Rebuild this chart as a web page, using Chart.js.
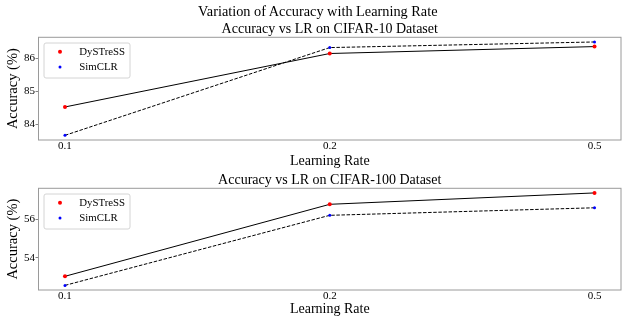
<!DOCTYPE html>
<html>
<head>
<meta charset="utf-8">
<script src="https://cdn.jsdelivr.net/npm/chart.js@4.4.0/dist/chart.umd.min.js"></script>
<style>
  html, body { margin: 0; padding: 0; background: #fff; }
  body { width: 625px; height: 322px; position: relative; overflow: hidden; font-family: "Liberation Serif", serif; }
  .plot { position: absolute; left: 0; }
  #suptitle { position: absolute; left: 0; top: 2px; width: 635.6px; text-align: center;
              font-size: 14.3px; line-height: 18px; color: #000; white-space: nowrap; }
</style>
</head>
<body>
<canvas id="cifar10" class="plot" width="625" height="175" style="top:0;width:625px;height:175px"></canvas>
<canvas id="cifar100" class="plot" width="625" height="157" style="top:165px;width:625px;height:157px"></canvas>
<div id="suptitle">Variation of Accuracy with Learning Rate</div>
<script>
// Learning rates on the x axis (evenly spaced categories)
const learningRates = ['0.1', '0.2', '0.5'];
const seriesNames = ['DySTreSS', 'SimCLR'];

// CIFAR-10 accuracy (%)
const cifar10DySTreSS = [84.52, 86.14, 86.35];
const cifar10SimCLR = [83.66, 86.32, 86.49];
const cifar10Ticks = [84, 85, 86];

// CIFAR-100 accuracy (%)
const cifar100DySTreSS = [53.05, 56.78, 57.37];
const cifar100SimCLR = [52.58, 56.21, 56.60];
const cifar100Ticks = [54, 56];

const SERIF = '"Liberation Serif", "Times New Roman", serif';

// Axes frame plus an inset legend in the upper-left corner
const frameAndLegend = {
  id: 'frameAndLegend',
  afterDatasetsDraw(chart) {
    const { ctx, chartArea: a } = chart;
    ctx.save();
    ctx.strokeStyle = '#9a9a9a';
    ctx.lineWidth = 1;
    ctx.strokeRect(a.left, a.top, a.right - a.left, a.bottom - a.top);

    const x0 = a.left + 5.5, y0 = a.top + 5.7, w = 86, h = 35;
    ctx.fillStyle = 'rgba(255,255,255,0.8)';
    ctx.strokeStyle = '#d4d4d4';
    ctx.beginPath();
    ctx.roundRect(x0, y0, w, h, 2);
    ctx.fill();
    ctx.stroke();

    ctx.font = '10.8px ' + SERIF;
    ctx.textBaseline = 'middle';
    ctx.textAlign = 'left';
    chart.data.datasets.forEach((ds, i) => {
      const y = y0 + 8.7 + i * 15.3;
      ctx.fillStyle = ds.pointBackgroundColor;
      ctx.beginPath();
      ctx.arc(x0 + 16, y, ds.pointRadius, 0, Math.PI * 2);
      ctx.fill();
      ctx.fillStyle = '#000';
      ctx.fillText(ds.label, x0 + 35.3, y);
    });
    ctx.restore();
  }
};

function yRange(a, b) {
  const all = a.concat(b);
  const lo = Math.min(...all), hi = Math.max(...all);
  const pad = (hi - lo) * 0.05;
  return { min: lo - pad, max: hi + pad };
}

function makeChart(id, title, dystress, simclr, yTicks, geom) {
  const yr = yRange(dystress, simclr);
  const xPad = (learningRates.length - 1) * 0.05;
  const toPoints = arr => arr.map((v, i) => ({ x: i, y: v }));
  return new Chart(document.getElementById(id), {
    type: 'line',
    data: {
      datasets: [
        {
          label: seriesNames[0],
          data: toPoints(dystress),
          borderColor: '#000',
          borderWidth: 1,
          pointRadius: 2,
          pointBackgroundColor: '#ff0000',
          pointBorderWidth: 0,
          tension: 0
        },
        {
          label: seriesNames[1],
          data: toPoints(simclr),
          borderColor: '#000',
          borderWidth: 1,
          borderDash: [3.5, 1.6],
          pointRadius: 1.5,
          pointBackgroundColor: '#0000ff',
          pointBorderWidth: 0,
          tension: 0
        }
      ]
    },
    options: {
      responsive: false,
      animation: false,
      devicePixelRatio: 1,
      events: [],
      layout: { padding: { left: 0, right: 1.5, top: 0, bottom: 0 } },
      plugins: {
        legend: { display: false },
        tooltip: { enabled: false },
        title: {
          display: true,
          text: title,
          fullSize: false,
          color: '#000',
          font: { family: SERIF, size: 14, weight: 'normal', lineHeight: 1.1 },
          padding: geom.titlePad
        }
      },
      scales: {
        x: {
          type: 'linear',
          min: -xPad,
          max: learningRates.length - 1 + xPad,
          afterFit: ax => { ax.height = geom.xHeight; },
          afterBuildTicks: ax => { ax.ticks = learningRates.map((_, i) => ({ value: i })); },
          border: { display: false },
          grid: { drawOnChartArea: false, drawTicks: false },
          ticks: {
            color: '#000',
            padding: 0.2,
            maxRotation: 0,
            font: { family: SERIF, size: 11, lineHeight: 1 },
            callback: v => learningRates[v]
          },
          title: {
            display: true,
            text: 'Learning Rate',
            color: '#000',
            font: { family: SERIF, size: 14, lineHeight: 1.2 },
            padding: { top: 0, bottom: geom.xTitlePad }
          }
        },
        y: {
          min: yr.min,
          max: yr.max,
          afterFit: ax => { ax.width = 38.5; },
          afterBuildTicks: ax => { ax.ticks = yTicks.map(v => ({ value: v })); },
          border: { display: false },
          grid: { drawOnChartArea: false, drawTicks: true, tickLength: 3, color: '#666', tickWidth: 0.8 },
          ticks: {
            color: '#000',
            padding: 0.5,
            font: { family: SERIF, size: 11, lineHeight: 1 }
          },
          title: {
            display: true,
            text: 'Accuracy (%)',
            color: '#000',
            font: { family: SERIF, size: 14.5, lineHeight: 1.2 },
            padding: { top: 4.8, bottom: 4.8 }
          }
        }
      }
    },
    plugins: [frameAndLegend]
  });
}

makeChart('cifar10', 'Accuracy vs LR on CIFAR-10 Dataset', cifar10DySTreSS, cifar10SimCLR, cifar10Ticks,
  { titlePad: { top: 21.5, bottom: 0.4 }, xHeight: 35, xTitlePad: 5.6 });
makeChart('cifar100', 'Accuracy vs LR on CIFAR-100 Dataset', cifar100DySTreSS, cifar100SimCLR, cifar100Ticks,
  { titlePad: { top: 7.8, bottom: 0.1 }, xHeight: 32, xTitlePad: 4.1 });
</script>
</body>
</html>
